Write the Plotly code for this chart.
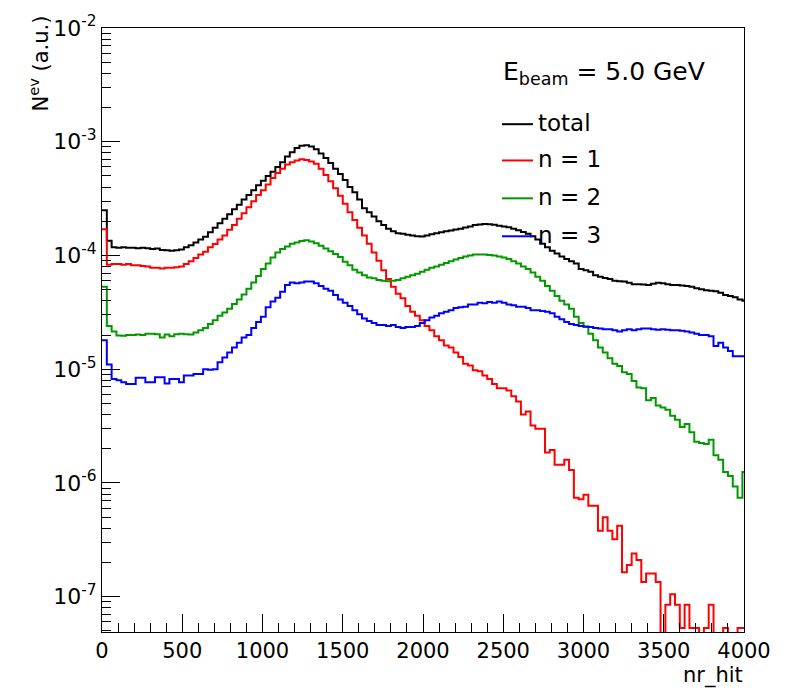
import numpy as np
import plotly.graph_objects as go

# ---------------- data ----------------
bin_width = 30          # nr_hit units per bin
n_bins = 134            # bins start at 0; last one is clipped by the axis at 4000

total = [2.5e-4, 1.35e-4, 1.18e-4, 1.17e-4, 1.18e-4, 1.17e-4, 1.17e-4, 1.16e-4, 1.17e-4, 1.16e-4,
         1.14e-4, 1.15e-4, 1.12e-4, 1.11e-4, 1.10e-4, 1.11e-4, 1.13e-4, 1.18e-4, 1.23e-4, 1.30e-4,
         1.38e-4, 1.46e-4, 1.60e-4, 1.75e-4, 1.92e-4, 2.10e-4, 2.30e-4, 2.55e-4, 2.80e-4, 3.10e-4,
         3.40e-4, 3.75e-4, 4.15e-4, 4.55e-4, 5.00e-4, 5.45e-4, 6.00e-4, 6.60e-4, 7.40e-4, 8.10e-4,
         8.80e-4, 9.20e-4, 9.30e-4, 9.10e-4, 8.60e-4, 7.90e-4, 7.20e-4, 6.50e-4, 5.80e-4, 5.20e-4,
         4.60e-4, 4.00e-4, 3.60e-4, 3.10e-4, 2.60e-4, 2.40e-4, 2.20e-4, 2.00e-4, 1.85e-4, 1.72e-4,
         1.63e-4, 1.57e-4, 1.55e-4, 1.52e-4, 1.50e-4, 1.48e-4, 1.47e-4, 1.50e-4, 1.54e-4, 1.57e-4,
         1.60e-4, 1.63e-4, 1.66e-4, 1.69e-4, 1.72e-4, 1.76e-4, 1.80e-4, 1.85e-4, 1.87e-4, 1.89e-4,
         1.88e-4, 1.86e-4, 1.83e-4, 1.80e-4, 1.77e-4, 1.72e-4, 1.67e-4, 1.61e-4, 1.55e-4, 1.48e-4,
         1.38e-4, 1.27e-4, 1.18e-4, 1.10e-4, 1.04e-4, 9.8e-5, 9.3e-5, 8.9e-5, 8.5e-5, 7.6e-5,
         7.4e-5, 7.2e-5, 6.7e-5, 6.5e-5, 6.35e-5, 6.2e-5, 6.0e-5, 5.95e-5, 5.9e-5, 5.75e-5,
         5.6e-5, 5.6e-5, 5.55e-5, 5.5e-5, 5.65e-5, 5.75e-5, 5.7e-5, 5.6e-5, 5.5e-5, 5.5e-5,
         5.45e-5, 5.4e-5, 5.3e-5, 5.15e-5, 5.05e-5, 4.95e-5, 4.9e-5, 4.85e-5, 4.7e-5, 4.5e-5,
         4.4e-5, 4.3e-5, 4.1e-5, 4.0e-5]

n1 = [1.7e-4, 8.3e-5, 8.4e-5, 8.4e-5, 8.3e-5, 8.4e-5, 8.2e-5, 8.2e-5, 8.1e-5, 8.0e-5,
      7.8e-5, 7.8e-5, 7.7e-5, 7.8e-5, 7.8e-5, 7.9e-5, 8.0e-5, 8.4e-5, 8.9e-5, 9.5e-5,
      1.02e-4, 1.08e-4, 1.18e-4, 1.26e-4, 1.38e-4, 1.5e-4, 1.68e-4, 1.85e-4, 2.1e-4, 2.35e-4,
      2.65e-4, 3.0e-4, 3.4e-4, 3.75e-4, 4.2e-4, 4.8e-4, 5.3e-4, 5.8e-4, 6.3e-4, 6.6e-4,
      6.85e-4, 7.0e-4, 6.9e-4, 6.7e-4, 6.4e-4, 5.8e-4, 5.1e-4, 4.5e-4, 3.9e-4, 3.35e-4,
      2.85e-4, 2.4e-4, 2.05e-4, 1.75e-4, 1.5e-4, 1.27e-4, 1.06e-4, 9.0e-5, 7.4e-5, 6.2e-5,
      5.3e-5, 4.6e-5, 4.2e-5, 3.6e-5, 3.2e-5, 2.95e-5, 2.7e-5, 2.4e-5, 2.2e-5, 1.95e-5,
      1.8e-5, 1.62e-5, 1.55e-5, 1.4e-5, 1.28e-5, 1.12e-5, 1.08e-5, 9.8e-6, 9.6e-6, 8.8e-6,
      8.2e-6, 7.4e-6, 6.8e-6, 6.8e-6, 6.5e-6, 5.8e-6, 5.2e-6, 4.0e-6, 4.25e-6, 3.2e-6,
      3.0e-6, 3.0e-6, 1.85e-6, 1.95e-6, 1.45e-6, 1.45e-6, 1.6e-6, 1.3e-6, 7.4e-7, 7.2e-7,
      7.9e-7, 6.3e-7, 6.3e-7, 3.8e-7, 5.0e-7, 3.8e-7, 3.2e-7, 4.2e-7, 1.64e-7, 1.9e-7,
      2.4e-7, 2.1e-7, 1.35e-7, 1.6e-7, 1.6e-7, 1.35e-7, 0, 8.5e-8, 1.05e-7, 8.5e-8,
      5.3e-8, 8.5e-8, 5.3e-8, 5.3e-8, 0, 5.3e-8, 8.5e-8, 0, 0, 5.3e-8,
      0, 0, 5.3e-8, 5.3e-8]

n2 = [5.3e-5, 2.4e-5, 2.15e-5, 1.98e-5, 1.97e-5, 2.0e-5, 2.0e-5, 2.02e-5, 2.0e-5, 2.05e-5,
      2.05e-5, 2.03e-5, 1.9e-5, 2.02e-5, 1.95e-5, 2.03e-5, 2.05e-5, 2.03e-5, 2.02e-5, 2.1e-5,
      2.2e-5, 2.3e-5, 2.5e-5, 2.7e-5, 2.95e-5, 3.15e-5, 3.4e-5, 3.75e-5, 4.1e-5, 4.55e-5,
      5.1e-5, 5.8e-5, 6.6e-5, 7.6e-5, 8.5e-5, 9.6e-5, 1.06e-4, 1.14e-4, 1.2e-4, 1.27e-4,
      1.3e-4, 1.34e-4, 1.36e-4, 1.33e-4, 1.28e-4, 1.22e-4, 1.15e-4, 1.09e-4, 1.03e-4, 9.7e-5,
      8.8e-5, 8.2e-5, 7.5e-5, 7.1e-5, 6.7e-5, 6.4e-5, 6.3e-5, 6.1e-5, 6.0e-5, 5.95e-5,
      6.0e-5, 6.1e-5, 6.3e-5, 6.5e-5, 6.7e-5, 6.9e-5, 7.2e-5, 7.5e-5, 7.8e-5, 8.0e-5,
      8.3e-5, 8.6e-5, 8.9e-5, 9.2e-5, 9.5e-5, 9.8e-5, 1.0e-4, 1.02e-4, 1.02e-4, 1.02e-4,
      1.01e-4, 1.0e-4, 9.8e-5, 9.6e-5, 9.3e-5, 8.9e-5, 8.5e-5, 8.0e-5, 7.6e-5, 7.1e-5,
      6.5e-5, 6.0e-5, 5.4e-5, 4.9e-5, 4.4e-5, 4.0e-5, 3.7e-5, 3.4e-5, 2.9e-5, 2.55e-5,
      2.35e-5, 2.05e-5, 1.8e-5, 1.55e-5, 1.4e-5, 1.25e-5, 1.12e-5, 1.07e-5, 9.4e-6, 9.1e-6,
      7.9e-6, 6.9e-6, 6.8e-6, 5.35e-6, 5.6e-6, 4.8e-6, 4.6e-6, 4.4e-6, 3.9e-6, 3.6e-6,
      3.1e-6, 3.3e-6, 2.8e-6, 2.3e-6, 2.25e-6, 2.2e-6, 2.4e-6, 1.75e-6, 1.6e-6, 1.25e-6,
      1.15e-6, 9.3e-7, 7.4e-7, 1.25e-6]

n3 = [1.8e-5, 1.1e-5, 8.2e-6, 8.0e-6, 7.7e-6, 7.4e-6, 7.4e-6, 8.4e-6, 8.4e-6, 7.7e-6,
      7.7e-6, 8.5e-6, 8.5e-6, 7.5e-6, 8.2e-6, 8.2e-6, 7.7e-6, 8.8e-6, 8.8e-6, 9.1e-6,
      9.1e-6, 1.0e-5, 9.9e-6, 1.0e-5, 1.15e-5, 1.27e-5, 1.4e-5, 1.55e-5, 1.71e-5, 1.9e-5,
      2.0e-5, 2.3e-5, 2.6e-5, 2.9e-5, 3.5e-5, 3.95e-5, 4.25e-5, 4.8e-5, 5.5e-5, 5.8e-5,
      5.7e-5, 5.8e-5, 5.9e-5, 5.9e-5, 5.7e-5, 5.4e-5, 5.1e-5, 4.9e-5, 4.5e-5, 4.1e-5,
      3.85e-5, 3.6e-5, 3.3e-5, 3.05e-5, 2.8e-5, 2.65e-5, 2.55e-5, 2.45e-5, 2.45e-5, 2.4e-5,
      2.45e-5, 2.35e-5, 2.3e-5, 2.35e-5, 2.35e-5, 2.4e-5, 2.55e-5, 2.7e-5, 2.85e-5, 2.95e-5,
      3.1e-5, 3.2e-5, 3.3e-5, 3.45e-5, 3.5e-5, 3.55e-5, 3.7e-5, 3.7e-5, 3.85e-5, 3.8e-5,
      3.9e-5, 3.85e-5, 3.95e-5, 3.85e-5, 3.7e-5, 3.65e-5, 3.55e-5, 3.55e-5, 3.45e-5, 3.3e-5,
      3.3e-5, 3.25e-5, 3.2e-5, 3.1e-5, 2.9e-5, 2.75e-5, 2.6e-5, 2.5e-5, 2.45e-5, 2.4e-5,
      2.38e-5, 2.35e-5, 2.3e-5, 2.28e-5, 2.25e-5, 2.25e-5, 2.2e-5, 2.15e-5, 2.2e-5, 2.25e-5,
      2.2e-5, 2.25e-5, 2.28e-5, 2.28e-5, 2.25e-5, 2.22e-5, 2.25e-5, 2.22e-5, 2.2e-5, 2.2e-5,
      2.18e-5, 2.15e-5, 2.1e-5, 2.05e-5, 2.0e-5, 2.0e-5, 1.95e-5, 1.6e-5, 1.71e-5, 1.55e-5,
      1.45e-5, 1.3e-5, 1.3e-5, 1.3e-5]

series_names = ["total", "n = 1", "n = 2", "n = 3"]
series_colors = ["#000000", "#ff0000", "#009900", "#0000ff"]

x_ticks = [0, 500, 1000, 1500, 2000, 2500, 3000, 3500, 4000]
y_exponents = [-7, -6, -5, -4, -3, -2]

# ---------------- figure ----------------
edges = np.arange(n_bins + 1) * bin_width

L, R, T, B = 102, 59, 21, 59
W, H = 803, 691
PW, PH = W - L - R, H - T - B


def px_x(px):
    return (px - L) / PW


def px_y(py):
    return (H - B - py) / PH


fig = go.Figure()
for vals, col, name in zip([total, n1, n2, n3], series_colors, series_names):
    v = np.asarray(vals, dtype=float)
    v = np.where(v > 0, v, 1e-12)          # empty bins drop below the axis, like ROOT
    fig.add_trace(go.Scatter(
        x=edges, y=np.append(v, v[-1]), mode="lines", name=name,
        line=dict(color=col, width=2, shape="hv"), hoverinfo="skip",
    ))

y_major = [10.0 ** e for e in y_exponents]
y_minor = [k * 10.0 ** e for e in range(-8, -2) for k in range(2, 10)]
x_minor = [v for v in range(0, 4001, 100) if v % 500]

axis_common = dict(
    showline=True, linecolor="black", linewidth=1, mirror=True,
    showgrid=False, zeroline=False, ticks="inside", ticklen=18,
    tickwidth=1, tickcolor="black",
)

fig.update_layout(
    width=W, height=H,
    margin=dict(l=L, r=R, t=T, b=B, pad=0),
    paper_bgcolor="white", plot_bgcolor="white",
    font=dict(family="DejaVu Sans", color="black", size=21),
    showlegend=False,
    xaxis=dict(range=[0, 4000], tickmode="array", tickvals=x_ticks,
               ticktext=[str(v) for v in x_ticks],
               tickfont=dict(family="DejaVu Sans", size=21, color="black"),
               minor=dict(tickmode="array", tickvals=x_minor, ticks="inside",
                          ticklen=9, tickwidth=1, tickcolor="black", showgrid=False),
               **axis_common),
    yaxis=dict(type="log", range=[-7.31, -2], tickmode="array", tickvals=y_major,
               ticktext=["10<sup>-%d</sup>" % (-e) for e in y_exponents],
               tickfont=dict(family="DejaVu Sans", size=22, color="black"),
               minor=dict(tickmode="array", tickvals=y_minor, ticks="inside",
                          ticklen=9, tickwidth=1, tickcolor="black", showgrid=False),
               **axis_common),
)

# axis titles (ROOT style: aligned to the axis ends)
fig.add_annotation(text="N<sup>ev</sup> (a.u.)", xref="paper", yref="paper",
                   x=px_x(39), y=px_y(57), textangle=-90, showarrow=False,
                   xanchor="center", yanchor="middle",
                   font=dict(family="DejaVu Sans", size=21, color="black"))
fig.add_annotation(text="nr_hit", xref="paper", yref="paper",
                   x=px_x(745), y=px_y(676), showarrow=False,
                   xanchor="right", yanchor="middle",
                   font=dict(family="DejaVu Sans", size=21, color="black"))

# legend block
fig.add_annotation(text="E<sub>beam</sub> = 5.0 GeV", xref="paper", yref="paper",
                   x=px_x(501), y=px_y(67), showarrow=False,
                   xanchor="left", yanchor="middle",
                   font=dict(family="DejaVu Sans", size=25, color="black"))
leg_y = [118.3, 155.0, 193.3, 231.7]
for yy, col, name in zip(leg_y, series_colors, series_names):
    fig.add_shape(type="line", xref="paper", yref="paper",
                  x0=px_x(502), x1=px_x(533), y0=px_y(yy), y1=px_y(yy),
                  line=dict(color=col, width=2))
    fig.add_annotation(text=name, xref="paper", yref="paper",
                       x=px_x(536), y=px_y(yy - 1), showarrow=False,
                       xanchor="left", yanchor="middle",
                       font=dict(family="DejaVu Sans", size=23, color="black"))

fig.write_html("out.html", config={"displayModeBar": False},
               post_script="document.body.style.margin='0';")
